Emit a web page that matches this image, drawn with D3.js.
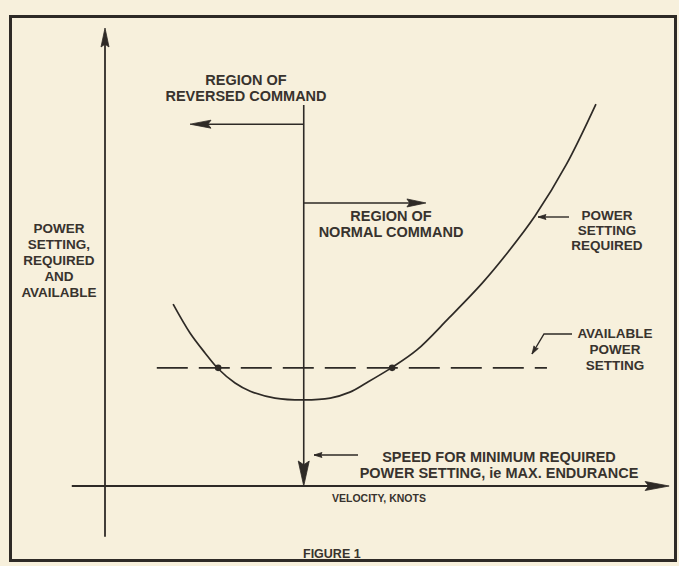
<!DOCTYPE html>
<html>
<head>
<meta charset="utf-8">
<script src="https://cdn.jsdelivr.net/npm/d3@7"></script>
<style>
  html, body { margin: 0; padding: 0; background: #f7f0dc; }
  svg { display: block; }
  text { font-family: "Liberation Sans", Arial, sans-serif; font-weight: bold; fill: #38332e; }
</style>
</head>
<body>
<script>
// ---- data (arbitrary units: velocity 0-100, power 0-100) ----
const velocity = [12.1, 15.1, 17.8, 20.1, 23.1, 25.8, 30.2, 35.3, 40.0, 43.5, 46.4, 51.0, 55.4, 61.1, 67.0, 71.6, 76.4, 81.9, 87.2];
const powerRequired = [39.7, 33.4, 29.0, 25.6, 22.5, 20.7, 19.2, 18.8, 19.2, 20.5, 22.5, 25.9, 29.7, 36.7, 44.3, 51.1, 59.0, 70.1, 83.4];
const availablePower = 25.8;
const availableRange = [9.2, 78.5];
const intersectionVelocity = [20.1, 51.0];
const minPowerVelocity = 35.3;
const leftLabel = ["POWER", "SETTING,", "REQUIRED", "AND", "AVAILABLE"];
const reversedLabel = ["REGION OF", "REVERSED COMMAND"];
const normalLabel = ["REGION OF", "NORMAL COMMAND"];
const requiredLabel = ["POWER", "SETTING", "REQUIRED"];
const availableLabel = ["AVAILABLE", "POWER", "SETTING"];
const speedLabel = ["SPEED FOR MINIMUM REQUIRED", "POWER SETTING, ie MAX. ENDURANCE"];
const xAxisLabel = "VELOCITY, KNOTS";
const figureLabel = "FIGURE 1";

const W = 679, H = 566;
const ink = "#2e2a26";
const svg = d3.select("body").append("svg").attr("width", W).attr("height", H);
svg.append("rect").attr("width", W).attr("height", H).attr("fill", "#f7f0dc");

const x = d3.scaleLinear().domain([0, 100]).range([105, 668]);
const y = d3.scaleLinear().domain([0, 100]).range([486, 28]);

// frame
svg.append("rect").attr("x", 10.5).attr("y", 16.5).attr("width", 665).attr("height", 544)
  .attr("fill", "none").attr("stroke", ink).attr("stroke-width", 3);

function arrowHead(tx, ty, dir, len, hw) {
  const c = Math.cos(dir), s = Math.sin(dir);
  const pts = [[0, 0], [-len, hw], [-len * 0.85, 0], [-len, -hw]].map(([a, b]) => [tx + a * c - b * s, ty + a * s + b * c]);
  svg.append("path").attr("d", d3.line()(pts) + "Z").attr("fill", ink).attr("stroke", ink).attr("stroke-width", 0.8);
}

// axes
svg.append("line").attr("x1", x(0)).attr("x2", x(0)).attr("y1", y(-11.1)).attr("y2", y(98))
  .attr("stroke", ink).attr("stroke-width", 1.8);
arrowHead(x(0), y(100), -Math.PI / 2, 19, 4);
svg.append("line").attr("x1", x(-5.9)).attr("x2", x(97)).attr("y1", y(0)).attr("y2", y(0))
  .attr("stroke", ink).attr("stroke-width", 1.8);
arrowHead(x(100.2), y(0), 0, 24, 4.5);

// minimum power speed line
svg.append("line").attr("x1", x(minPowerVelocity)).attr("x2", x(minPowerVelocity))
  .attr("y1", y(83.2)).attr("y2", y(3)).attr("stroke", ink).attr("stroke-width", 1.6);
arrowHead(x(minPowerVelocity), y(0), Math.PI / 2, 25, 5.5);

// region arrows
const revY = 79.0, normY = 61.8;
svg.append("line").attr("x1", x(minPowerVelocity)).attr("x2", x(17)).attr("y1", y(revY)).attr("y2", y(revY))
  .attr("stroke", ink).attr("stroke-width", 1.6);
arrowHead(x(15.1), y(revY), Math.PI, 21, 4);
svg.append("line").attr("x1", x(minPowerVelocity)).attr("x2", x(55)).attr("y1", y(normY)).attr("y2", y(normY))
  .attr("stroke", ink).attr("stroke-width", 1.6);
arrowHead(x(57.0), y(normY), 0, 19, 4);

// available power dashed line
svg.append("line").attr("x1", x(availableRange[0])).attr("x2", x(availableRange[1]))
  .attr("y1", y(availablePower)).attr("y2", y(availablePower))
  .attr("stroke", ink).attr("stroke-width", 1.8).attr("stroke-dasharray", "31,11");

// power required curve
const pts = velocity.map((v, i) => [v, powerRequired[i]]);
svg.append("path").datum(pts)
  .attr("d", d3.line().x(d => x(d[0])).y(d => y(d[1])).curve(d3.curveCatmullRom.alpha(0.5)))
  .attr("fill", "none").attr("stroke", ink).attr("stroke-width", 1.7);

svg.selectAll("circle.ix").data(intersectionVelocity).join("circle")
  .attr("cx", d => x(d)).attr("cy", y(availablePower)).attr("r", 3.3).attr("fill", ink);

// leader arrows
function leader(points, tipDir) {
  svg.append("path").attr("d", d3.line()(points)).attr("fill", "none").attr("stroke", ink).attr("stroke-width", 1.4);
  const t = points[points.length - 1];
  arrowHead(t[0], t[1], tipDir, 8, 2.5);
}
leader([[569, 217], [538, 217]], Math.PI);
leader([[572, 334], [544, 334], [532, 354]], Math.atan2(20, -12));
leader([[358, 455], [314, 455]], Math.PI);

// labels
function block(lines, cx, y0, dy, size, anchor) {
  const t = svg.append("text").attr("font-size", size).attr("text-anchor", anchor || "middle");
  lines.forEach((l, i) => t.append("tspan").attr("x", cx).attr("y", y0 + i * dy).text(l));
}
block(leftLabel, 59, 233, 16, 13.5);
block(reversedLabel, 246, 85, 16, 14.5);
block(normalLabel, 391, 221, 16, 14.5);
block(requiredLabel, 607, 220, 15, 13.5);
block(availableLabel, 615, 338, 16, 13.5);
block(speedLabel, 499, 462, 16, 14.5);
block([xAxisLabel], 332, 502, 0, 10.5, "start");
block([figureLabel], 303, 558, 0, 12.5, "start");
</script>
</body>
</html>
